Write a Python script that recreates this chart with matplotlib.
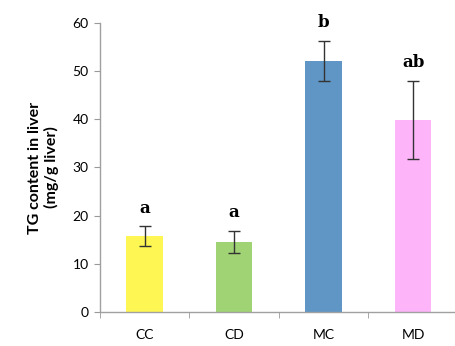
import numpy as np
import matplotlib
matplotlib.use("Agg")
import matplotlib.pyplot as plt

groups = ["CC", "CD", "MC", "MD"]
tg_content = [15.8, 14.6, 52.1, 39.8]
tg_err = [2.0, 2.3, 4.2, 8.1]
sig_letters = ["a", "a", "b", "ab"]
bar_colors = ["#FEF653", "#A0D374", "#6096C5", "#FDB4F8"]

plt.rcParams["font.family"] = ["Lato", "DejaVu Sans"]

fig = plt.figure(figsize=(4.56, 3.46), dpi=100)
ax = fig.add_axes([0.219, 0.098, 0.785, 0.836])

x = np.arange(len(groups))
ax.bar(x, tg_content, width=0.41, color=bar_colors, zorder=2)
ax.errorbar(x, tg_content, yerr=tg_err, fmt="none", ecolor="#333333",
            elinewidth=1.0, capsize=4, capthick=1.0, zorder=3)

for xi, v, e, lab in zip(x, tg_content, tg_err, sig_letters):
    ax.annotate(lab, (xi, v + e), xytext=(0, 7), textcoords="offset points",
                ha="center", va="bottom", fontsize=12, fontweight="bold",
                family="DejaVu Serif")

ax.set_xlim(-0.5, len(groups) - 0.5)
ax.set_ylim(0, 60)
ax.set_yticks(np.arange(0, 61, 10))
ax.set_xticks(x)
ax.set_xticklabels(groups)
ax.set_xticks(np.arange(-0.5, len(groups), 1.0), minor=True)
ax.tick_params(axis="x", which="major", length=0, pad=12, labelsize=10)
ax.tick_params(axis="x", which="minor", length=4, direction="out", color="#999999")
ax.tick_params(axis="y", length=4, direction="out", color="#999999",
               labelsize=10, pad=4)

for s in ["top", "right"]:
    ax.spines[s].set_visible(False)
for s in ["left", "bottom"]:
    ax.spines[s].set_color("#a0a0a0")
    ax.spines[s].set_linewidth(1.0)

ax.set_ylabel("TG content in liver\n(mg/g liver)", fontsize=11.5,
              fontweight="bold", labelpad=10, linespacing=1.15)

fig.savefig("out.png", dpi=100)
